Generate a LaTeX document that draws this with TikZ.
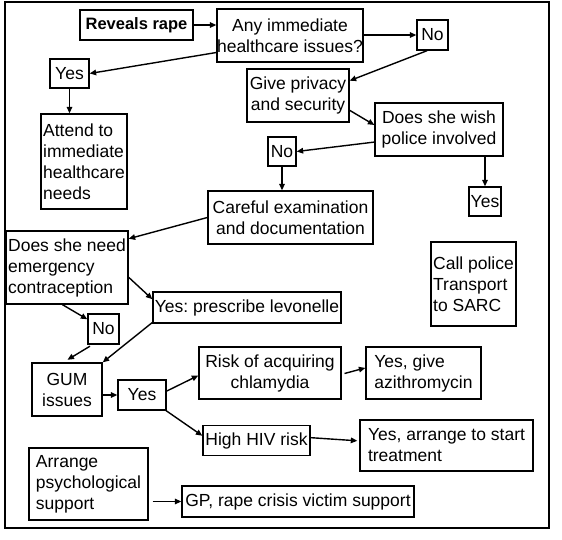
\documentclass[tikz,border=0pt]{standalone}
\usepackage{fontspec}
\setmainfont{Liberation Sans}
\usetikzlibrary{arrows.meta}
\frenchspacing
\tikzset{
  box/.style={draw, line width=1.3pt, inner sep=0pt, align=center,
    font=\fontsize{17.5}{21}\selectfont},
  lbox/.style={box, align=left},
  arr/.style={-{Triangle[length=6.5pt,width=5.5pt]}, line width=1.4pt},
}
\begin{document}
\begin{tikzpicture}[x=1pt,y=-1pt]
\useasboundingbox (0,0) rectangle (562,539);
\draw[line width=1.5pt] (5,2) rectangle (549,528);

\node[box, minimum width=113pt, minimum height=30pt, font=\fontsize{16.5}{19}\selectfont\bfseries] (reveal) at (136.5,25) {Reveals rape};
\node[box, minimum width=146pt, minimum height=53pt] (any) at (290,35.5) {Any immediate\\healthcare issues?};
\node[box, minimum width=31pt, minimum height=30pt] (no1) at (432.5,35) {No};
\node[box, minimum width=39pt, minimum height=29pt] (yes1) at (69.5,73.5) {Yes};
\node[box, minimum width=102pt, minimum height=53pt] (privacy) at (298,95.5) {Give privacy\\and security};
\node[lbox, minimum width=86pt, minimum height=95pt] (attend) at (84,161.5) {Attend to\\immediate\\healthcare\\needs};
\node[box, minimum width=128pt, minimum height=53pt] (police) at (439,129.5) {Does she wish\\police involved};
\node[box, minimum width=28pt, minimum height=29pt] (no2) at (282,151.5) {No};
\node[box, minimum width=32pt, minimum height=29pt] (yes2) at (485,201.5) {Yes};
\node[box, minimum width=165pt, minimum height=53pt] (careful) at (290.5,217.5) {Careful examination\\and documentation};
\node[lbox, minimum width=122pt, minimum height=73pt] (ec) at (67,267.5) {Does she need\\emergency\\contraception};
\node[lbox, minimum width=85pt, minimum height=84pt] (callpol) at (473.5,284) {Call police\\Transport\\to SARC};
\node[box, minimum width=188pt, minimum height=31pt] (levo) at (247,307.5) {Yes: prescribe levonelle};
\node[box, minimum width=31pt, minimum height=30pt] (no3) at (103.5,329) {No};
\node[box, minimum width=70pt, minimum height=53pt] (gum) at (67,389.5) {GUM\\issues};
\node[box, minimum width=48pt, minimum height=30pt] (yes3) at (142,395) {Yes};
\node[box, minimum width=142pt, minimum height=52pt] (risk) at (270,373) {Risk of acquiring\\chlamydia};
\node[lbox, minimum width=115pt, minimum height=52pt] (azi) at (423.5,373) {Yes, give\\azithromycin};
\node[box, minimum width=107pt, minimum height=30pt] (hiv) at (256.5,440.5) {High HIV risk};
\node[lbox, minimum width=173pt, minimum height=51pt] (arrstart) at (446.5,445.5) {Yes, arrange to start\\treatment};
\node[lbox, minimum width=119pt, minimum height=72pt] (psych) at (88.5,484) {Arrange\\psychological\\support};
\node[box, minimum width=232pt, minimum height=31pt] (gp) at (298,501.5) {GP, rape crisis victim support};

\draw[arr] (reveal.east) -- (reveal.east -| any.west);
\draw[arr] (no1.west -| any.east) -- (no1.west);
\draw[arr] (any.193.5) -- (yes1.east);
\draw[arr] (yes1.south) -- (yes1.south |- attend.north);
\draw[arr] (no1.251) -- (privacy.16.9);
\draw[arr] (privacy.-16.9) -- (police.176);
\draw[arr] (police.191.9) -- (no2.east);
\draw[arr] (no2.south) -- (no2.south |- careful.north);
\draw[arr] (yes2.north |- police.south) -- (yes2.north);
\draw[arr] (careful.west) -- (ec.25.8);
\draw[arr] (ec.-9.8) -- (levo.175.4);
\draw[arr] (ec.263.7) -- (no3.149.9);
\draw[arr, shorten <=3pt, shorten >=5pt] (no3.235) -- (gum.98.6);
\draw[arr] (levo.189.9) -- (gum.north east);
\draw[arr] (yes3.west -| gum.east) -- (yes3.west);
\draw[arr] (yes3.9.5) -- (risk.182);
\draw[arr] (yes3.-33) -- (hiv.175.2);
\draw[arr, shorten <=3pt] (risk.-1.6) -- (azi.175);
\draw[arr, shorten >=2pt] (hiv.3.7) -- (arrstart.177.7);
\draw[arr, shorten <=4pt] (gp.west -| psych.east) -- (gp.west);
\end{tikzpicture}
\end{document}
